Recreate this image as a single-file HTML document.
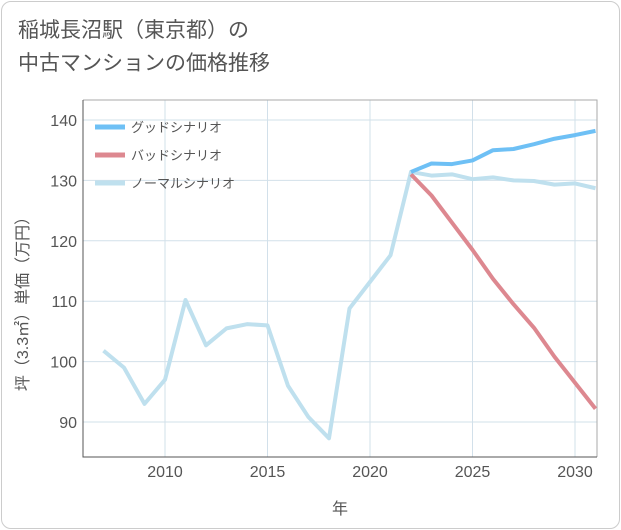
<!DOCTYPE html>
<html><head><meta charset="utf-8"><style>
body{margin:0;background:#fff;font-family:"Liberation Sans","Noto Sans CJK JP",sans-serif}
.card{position:absolute;left:1px;top:1px;width:617px;height:526px;border:1px solid #ccc;border-radius:10px;background:#fff}
.title{position:absolute;left:18px;top:14px;font-size:21px;line-height:33px;color:#555}
</style></head><body>
<div class="card"></div>
<div class="title">稲城長沼駅（東京都）の<br>中古マンションの価格推移</div>
<svg id="c" width="621" height="530" style="position:absolute;left:0;top:0"></svg>
<script>
const years=[2007,2008,2009,2010,2011,2012,2013,2014,2015,2016,2017,2018,2019,2020,2021,2022,2023,2024,2025,2026,2027,2028,2029,2030,2031];
const normal=[101.8,99,93,97,110.2,102.7,105.5,106.2,106,96,90.8,87.3,108.8,113.2,117.6,131.4,130.8,131,130.2,130.5,130,129.9,129.3,129.5,128.7];
const goodYears=[2022,2023,2024,2025,2026,2027,2028,2029,2030,2031];
const good=[131.4,132.8,132.7,133.3,135,135.2,136,136.9,137.5,138.2];
const bad=[131,127.5,123,118.5,113.7,109.5,105.6,100.8,96.5,92.2];
const xTicks=[2010,2015,2020,2025,2030];
const yTicks=[90,100,110,120,130,140];
const L=83,R=597,T=100,B=457;
const x=v=>165+(v-2010)*20.5;
const y=v=>120+(140-v)*6.04;
const s=document.getElementById('c');
const ns='http://www.w3.org/2000/svg';
function el(t,a,p){const e=document.createElementNS(ns,t);for(const k in a)e.setAttribute(k,a[k]);(p||s).appendChild(e);return e;}
xTicks.forEach(v=>{const g=el('line',{x1:x(v),x2:x(v),y1:T,y2:B,stroke:'#d2e0ea','stroke-width':1});});
yTicks.forEach(v=>{const g=el('line',{x1:L,x2:R,y1:y(v),y2:y(v),stroke:'#d2e0ea','stroke-width':1});});
const fr=el('path',{d:`M${L} ${T}H${R}V${B}`,fill:'none',stroke:'#aaa','stroke-width':1});

const ax=el('path',{d:`M${L} ${T}V${B}H${R}`,fill:'none',stroke:'#555','stroke-width':1});

xTicks.forEach(v=>{const t=el('text',{x:x(v),y:477,'text-anchor':'middle','font-size':16,fill:'#555'});t.textContent=v;});
yTicks.forEach(v=>{const t=el('text',{x:77,y:y(v)+6,'text-anchor':'end','font-size':16,fill:'#555'});t.textContent=v;});
const xt=el('text',{x:340,y:514,'text-anchor':'middle','font-size':16,fill:'#555'});xt.textContent='年';

const yt=el('text',{x:0,y:0,'text-anchor':'middle','font-size':16,fill:'#555',transform:'translate(28,300) rotate(-90)'});yt.textContent='坪（3.3㎡）単価（万円）';

function line(xs,vs,c,n){const p=el('polyline',{points:xs.map((v,i)=>x(v)+','+y(vs[i])).join(' '),fill:'none',stroke:c,'stroke-width':4,'stroke-linejoin':'round'});}
line(years,normal,'#bfe0ee','normal-line');
line(goodYears,bad,'#dd8890','bad-line');
line(goodYears,good,'#6ec0f5','good-line');
const leg=[['グッドシナリオ','#6ec0f5'],['バッドシナリオ','#dd8890'],['ノーマルシナリオ','#bfe0ee']];
leg.forEach((d,i)=>{const g=el('g',{});
el('line',{x1:95,x2:125,y1:127+i*28,y2:127+i*28,stroke:d[1],'stroke-width':5},g);
const t=el('text',{x:131,y:132+i*28,'font-size':13,fill:'#555'},g);t.textContent=d[0];});
</script>
</body></html>
